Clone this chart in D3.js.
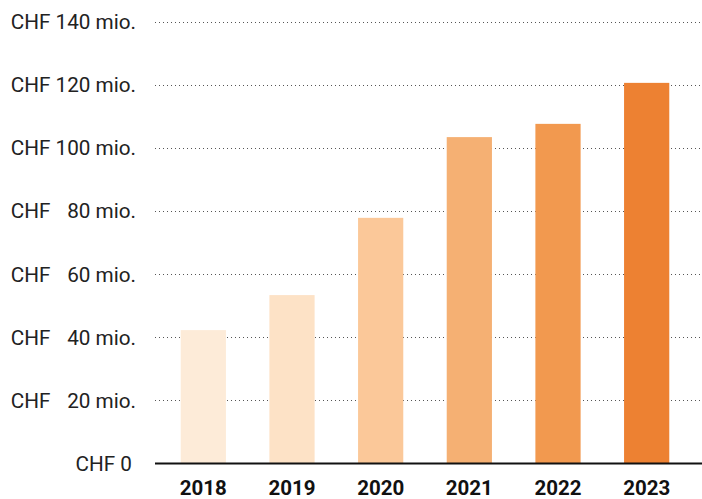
<!DOCTYPE html>
<html><head><meta charset="utf-8">
<script src="https://cdn.jsdelivr.net/npm/d3@7/dist/d3.min.js"></script>
<style>body{margin:0;background:#fff}svg{display:block}</style>
</head><body><svg id="c" width="702" height="499"></svg>
<script>
const years = ["2018","2019","2020","2021","2022","2023"];
const values = [42.3, 53.4, 77.9, 103.5, 107.7, 120.7];
const colors = ["#fdebd8","#fde2c6","#fbc899","#f5b073","#f2994f","#ed8132"];
const yTicks = [0,20,40,60,80,100,120,140];

const svg = d3.select("#c");
const y = d3.scaleLinear().domain([0,140]).range([463.5, 22]);
const x = d3.scaleBand().domain(years).range([159, 691]).paddingInner(0.49).paddingOuter(0.245);
const font = "Roboto, 'Noto Sans', sans-serif";

// gridlines
svg.append("g").selectAll("line").data(yTicks.filter(d=>d>0)).join("line")
  .attr("x1",155).attr("x2",702)
  .attr("y1",d=>Math.round(y(d))+0.5).attr("y2",d=>Math.round(y(d))+0.5)
  .attr("stroke","#555").attr("stroke-width",1).attr("stroke-dasharray","1,3");

// bars
svg.append("g").selectAll("rect").data(years).join("rect")
  .attr("x",d=>x(d)).attr("width",x.bandwidth())
  .attr("y",(d,i)=>y(values[i])).attr("height",(d,i)=>y(0)-y(values[i]))
  .attr("fill",(d,i)=>colors[i]);

// baseline
svg.append("line").attr("x1",155).attr("x2",702).attr("y1",y(0)).attr("y2",y(0))
  .attr("stroke","#111").attr("stroke-width",2);

// y labels
const fmt = v => v===0 ? "CHF 0" : "CHF " + (v<100 ? "\u2007" : "") + v + " mio.";
svg.append("g").selectAll("text").data(yTicks).join("text")
  .attr("x",d=>d===0?132:136).attr("y",d=>y(d)).attr("dy","0.35em")
  .attr("text-anchor","end").attr("font-family",font).attr("font-size",20.7)
  .attr("fill","#222").text(fmt);

// x labels
svg.append("g").selectAll("text").data(years).join("text")
  .attr("x",d=>x(d)+x.bandwidth()/2).attr("y",495)
  .attr("text-anchor","middle").attr("font-family",font).attr("font-weight","bold")
  .attr("font-size",20.5).attr("fill","#111").text(d=>d);
</script></body></html>
